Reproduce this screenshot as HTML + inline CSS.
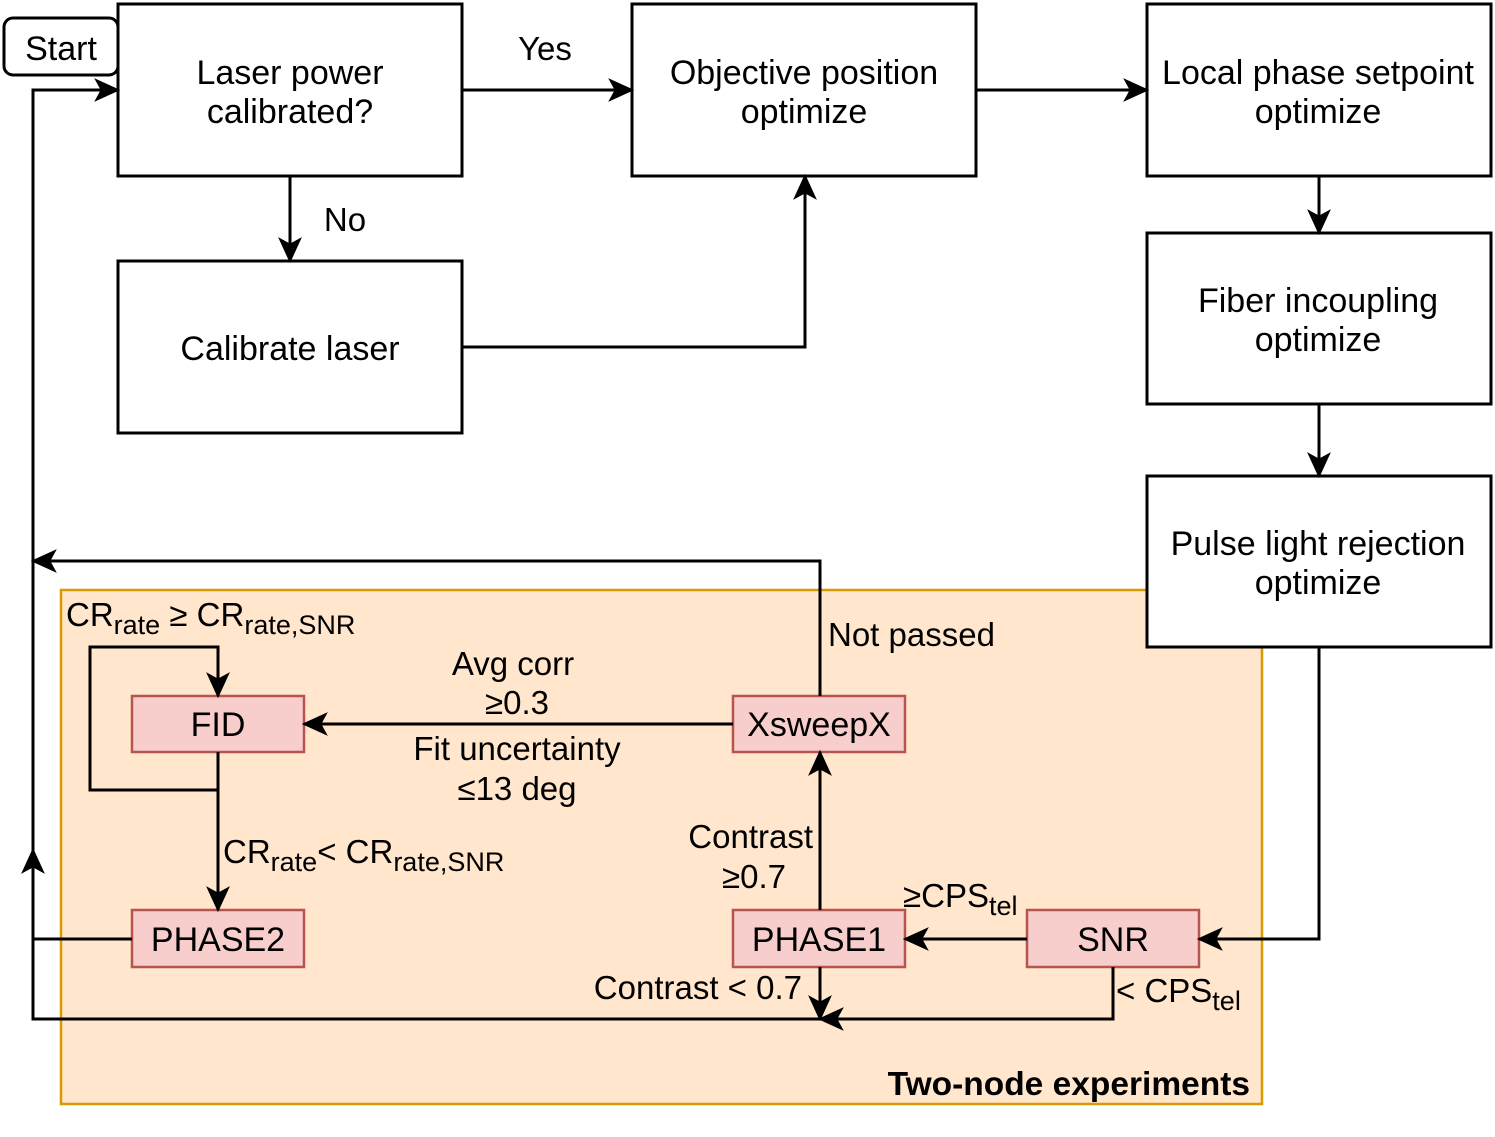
<!DOCTYPE html>
<html><head><meta charset="utf-8"><style>
html,body{margin:0;padding:0;background:#fff}
svg{display:block}
text{font-family:"Liberation Sans",Arial,sans-serif;fill:#000}
</style></head><body>
<svg width="1495" height="1137" viewBox="0 0 1495 1137" xmlns="http://www.w3.org/2000/svg">
<defs>
<marker id="b" viewBox="0 0 24 24" refX="22" refY="12" markerWidth="26" markerHeight="26" markerUnits="userSpaceOnUse" orient="auto">
<path d="M0,1 L24,12 L0,23 L6,12 z" fill="#000"/>
</marker>
</defs>
<rect x="61" y="590" width="1201" height="514" fill="#ffe6cc" stroke="#d79b00" stroke-width="2.5"/>
<text x="1250" y="1095" font-size="33.5" font-weight="bold" text-anchor="end">Two-node experiments</text>

<g fill="#fff" stroke="#000" stroke-width="3">
<rect x="4" y="18" width="114" height="57" rx="9"/>
<rect x="118" y="4" width="344" height="172"/>
<rect x="632" y="4" width="344" height="172"/>
<rect x="1147" y="4" width="344" height="172"/>
<rect x="118" y="261" width="344" height="172"/>
<rect x="1147" y="233" width="344" height="171"/>
<rect x="1147" y="476" width="344" height="171"/>
</g>
<g font-size="34" text-anchor="middle">
<text x="61" y="60">Start</text>
<text x="290" y="84">Laser power</text><text x="290" y="123">calibrated?</text>
<text x="804" y="84">Objective position</text><text x="804" y="123">optimize</text>
<text x="1318" y="84">Local phase setpoint</text><text x="1318" y="123">optimize</text>
<text x="290" y="360">Calibrate laser</text>
<text x="1318" y="312">Fiber incoupling</text><text x="1318" y="351">optimize</text>
<text x="1318" y="555">Pulse light rejection</text><text x="1318" y="594">optimize</text>
</g>

<g fill="#f8cecc" stroke="#b85450" stroke-width="2.5">
<rect x="132" y="696" width="172" height="56"/>
<rect x="733" y="696" width="172" height="56"/>
<rect x="132" y="910" width="172" height="57"/>
<rect x="733" y="910" width="172" height="57"/>
<rect x="1027" y="910" width="172" height="57"/>
</g>
<g font-size="34" text-anchor="middle">
<text x="218" y="736">FID</text>
<text x="819" y="736">XsweepX</text>
<text x="218" y="951">PHASE2</text>
<text x="819" y="951">PHASE1</text>
<text x="1113" y="951">SNR</text>
</g>

<g fill="none" stroke="#000" stroke-width="3">
<path d="M462,90 H632" marker-end="url(#b)"/>
<path d="M290,176 V261" marker-end="url(#b)"/>
<path d="M462,347 H805 V176" marker-end="url(#b)"/>
<path d="M976,90 H1147" marker-end="url(#b)"/>
<path d="M1319,176 V233" marker-end="url(#b)"/>
<path d="M1319,404 V476" marker-end="url(#b)"/>
<path d="M1319,647 V939 H1199" marker-end="url(#b)"/>
<path d="M1027,939 H905" marker-end="url(#b)"/>
<path d="M820,910 V752" marker-end="url(#b)"/>
<path d="M733,724 H304" marker-end="url(#b)"/>
<path d="M820,696 V561 H33" marker-end="url(#b)"/>
<path d="M218,752 V910" marker-end="url(#b)"/>
<path d="M218,790 H90 V647 H218 V696" marker-end="url(#b)"/>
<path d="M820,967 V1019" marker-end="url(#b)"/>
<path d="M1113,967 V1019 H820" marker-end="url(#b)"/>
<path d="M820,1019 H33 V90 H118" marker-end="url(#b)"/>
<path d="M132,939 H33"/>
<path d="M33,1019 V850" marker-end="url(#b)"/>
</g>

<g font-size="33">
<text x="545" y="60" text-anchor="middle">Yes</text>
<text x="345" y="231" text-anchor="middle">No</text>
<text x="828" y="646">Not passed</text>
<text x="66" y="626">CR<tspan font-size="27" dy="8">rate</tspan><tspan dy="-8"> ≥ CR</tspan><tspan font-size="27" dy="8">rate,SNR</tspan></text>
<text x="513" y="675" text-anchor="middle">Avg corr</text>
<text x="517" y="714" text-anchor="middle">≥0.3</text>
<text x="517" y="760" text-anchor="middle">Fit uncertainty</text>
<text x="517" y="800" text-anchor="middle">≤13 deg</text>
<text x="223" y="863">CR<tspan font-size="27" dy="8">rate</tspan><tspan dy="-8">&lt; CR</tspan><tspan font-size="27" dy="8">rate,SNR</tspan></text>
<text x="813" y="848" text-anchor="end">Contrast</text>
<text x="786" y="888" text-anchor="end">≥0.7</text>
<text x="903" y="907">≥CPS<tspan font-size="27" dy="8">tel</tspan></text>
<text x="802" y="999" text-anchor="end">Contrast &lt; 0.7</text>
<text x="1116" y="1002">&lt; CPS<tspan font-size="27" dy="8">tel</tspan></text>
</g>
</svg>
</body></html>
